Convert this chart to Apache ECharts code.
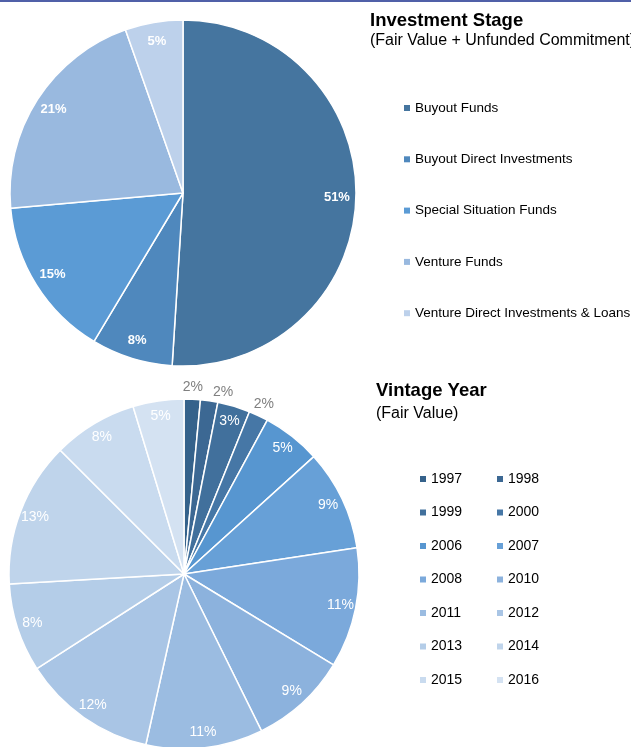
<!DOCTYPE html>
<html>
<head>
<meta charset="utf-8">
<script src="https://cdn.jsdelivr.net/npm/echarts@6/dist/echarts.min.js"></script>
<style>
  html, body { margin: 0; padding: 0; background: #fff; }
  #chart { width: 631px; height: 747px; }
</style>
</head>
<body>
<div id="chart"></div>
<script>
// investment stage (fair value + unfunded commitment), share in %
var stageNames = ['Buyout Funds', 'Buyout Direct Investments', 'Special Situation Funds', 'Venture Funds', 'Venture Direct Investments & Loans'];
var stageValues = [51.0, 7.6, 15.0, 21.0, 5.4];
var stageColors = ['#45759f', '#4f88bd', '#5b9bd5', '#99b9df', '#bdd1eb'];

// vintage year (fair value), share in %
var years = ['1997', '1998', '1999', '2000', '2006', '2007', '2008', '2010', '2011', '2012', '2013', '2014', '2015', '2016'];
var yearValues = [1.5, 1.6, 3.0, 1.8, 5.4, 9.3, 11.1, 9.0, 10.8, 12.4, 8.2, 13.4, 7.8, 4.7];
var yearColors = ['#35628b', '#3c6893', '#41709c', '#4677a6', '#5796d0', '#67a0d7', '#7ba9db', '#8cb2dd', '#9bbce1', '#a9c5e5', '#b4cde8', '#bfd4eb', '#c9dbef', '#d4e2f2'];
// small slices whose labels sit outside the pie
var outsideYears = [0, 1, 3];

var font = '"Liberation Sans", Arial, sans-serif';
var chart = echarts.init(document.getElementById('chart'));

function pct(p) { return Math.round(p.percent) + '%'; }

function stageData(transparent) {
  return stageNames.map(function (n, i) {
    return { name: n, value: stageValues[i], itemStyle: { color: transparent ? 'rgba(0,0,0,0)' : stageColors[i] } };
  });
}
function yearData(mode) {
  return years.map(function (n, i) {
    var isOut = outsideYears.indexOf(i) >= 0;
    var d = { name: n, value: yearValues[i], itemStyle: { color: mode ? 'rgba(0,0,0,0)' : yearColors[i] } };
    if (mode === 'in') d.label = { show: !isOut };
    if (mode === 'out') d.label = { show: isOut, offset: i === 1 ? [12, 4] : [0, 0] };
    return d;
  });
}

var overlay = { type: 'pie', silent: true, clockwise: true, startAngle: 90, avoidLabelOverlap: false,
  itemStyle: { borderWidth: 0 }, labelLine: { show: false }, emphasis: { disabled: true }, tooltip: { show: false } };

var legendBase = { orient: 'vertical', padding: 0, itemWidth: 6, itemHeight: 6, icon: 'rect', selectedMode: false,
  itemStyle: { borderWidth: 0 } };

chart.setOption({
  animation: false,
  textStyle: { fontFamily: font },
  graphic: [{ type: 'rect', left: 0, top: 0, shape: { width: 631, height: 2 }, style: { fill: '#5060a8' } }],
  title: [
    { text: 'Investment Stage', subtext: '(Fair Value + Unfunded Commitment)', left: 370, top: 11.5, itemGap: 2, padding: 0,
      textStyle: { fontSize: 18.5, fontWeight: 'bold', color: '#000', fontFamily: font },
      subtextStyle: { fontSize: 16, color: '#000', fontFamily: font } },
    { text: 'Vintage Year', subtext: '(Fair Value)', left: 376, top: 381.5, itemGap: 5.5, padding: 0,
      textStyle: { fontSize: 18.5, fontWeight: 'bold', color: '#000', fontFamily: font },
      subtextStyle: { fontSize: 16, color: '#000', fontFamily: font } }
  ],
  legend: [
    Object.assign({}, legendBase, { left: 404, top: 101, itemGap: 37.3, data: stageNames,
      textStyle: { fontSize: 13.5, color: '#000', fontFamily: font } }),
    Object.assign({}, legendBase, { left: 420, top: 472, itemGap: 19.5,
      data: years.filter(function (y, i) { return i % 2 === 0; }),
      textStyle: { fontSize: 14, color: '#000', fontFamily: font } }),
    Object.assign({}, legendBase, { left: 497, top: 472, itemGap: 19.5,
      data: years.filter(function (y, i) { return i % 2 === 1; }),
      textStyle: { fontSize: 14, color: '#000', fontFamily: font } })
  ],
  series: [
    { type: 'pie', center: [183, 193], radius: [0, 173], startAngle: 90, clockwise: true,
      itemStyle: { borderColor: '#fff', borderWidth: 1.5 }, label: { show: false }, labelLine: { show: false },
      emphasis: { disabled: true }, data: stageData(false) },
    Object.assign({}, overlay, { center: [183, 193], radius: [129, 173], data: stageData(true),
      label: { show: true, position: 'inside', formatter: pct, color: '#fff', fontSize: 13, fontWeight: 'bold', fontFamily: font } }),
    { type: 'pie', center: [184, 574], radius: [0, 175], startAngle: 90, clockwise: true,
      itemStyle: { borderColor: '#fff', borderWidth: 1.5 }, label: { show: false }, labelLine: { show: false },
      emphasis: { disabled: true }, data: yearData(null) },
    Object.assign({}, overlay, { center: [184, 574], radius: [138, 175], data: yearData('in'),
      label: { position: 'inside', formatter: pct, color: '#fff', fontSize: 14, fontFamily: font } }),
    Object.assign({}, overlay, { center: [184, 574], radius: [175, 194], data: yearData('out'),
      label: { position: 'inside', formatter: pct, color: '#808080', fontSize: 14, fontFamily: font } })
  ]
});
</script>
</body>
</html>
